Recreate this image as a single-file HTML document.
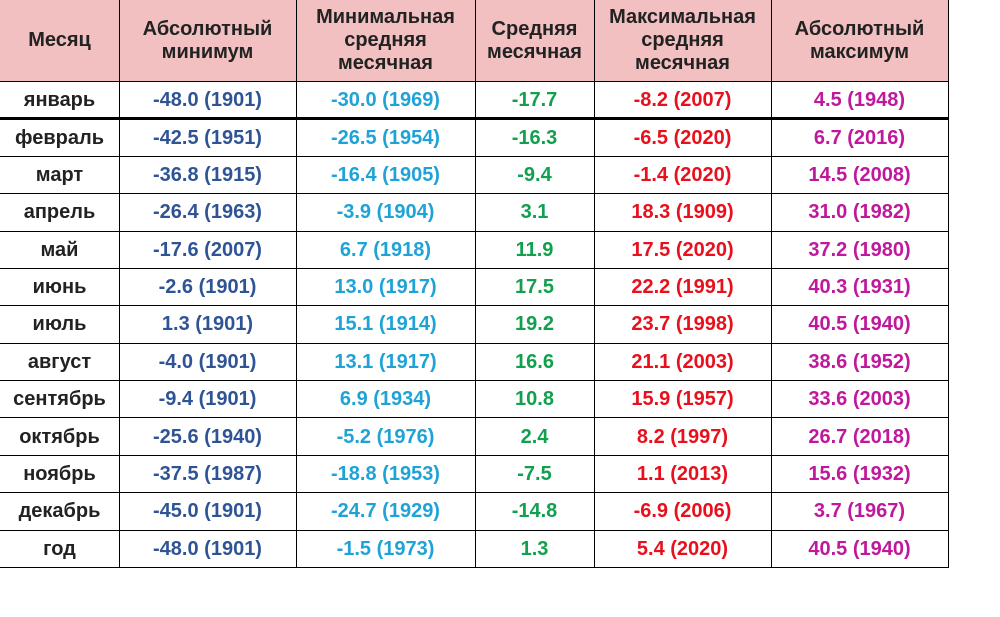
<!DOCTYPE html>
<html><head><meta charset="utf-8"><style>
body{margin:0;width:1000px;height:617px;background:#fff;font-family:"Liberation Sans",Arial,sans-serif;overflow:hidden;position:relative}
.hdr{position:absolute;left:0;top:0;width:948px;height:81px;background:#f2c0c1}
.c{position:absolute;display:flex;align-items:center;justify-content:center;text-align:center;font-weight:bold}
.h{font-size:20px;line-height:23px;color:#222}
.d{font-size:20px}
.vl{position:absolute;top:0;width:1px;height:567px;background:#000}
.hl{position:absolute;left:0;width:949px;height:1px;background:#000}
</style></head><body>
<div class="hdr"></div>
<div id="t"></div>
<script>
const cols=[0,119,296,475,594,771,948];
const headers=["Месяц","Абсолютный<br>минимум","Минимальная<br>средняя<br>месячная","Средняя<br>месячная","Максимальная<br>средняя<br>месячная","Абсолютный<br>максимум"];
const months=["январь","февраль","март","апрель","май","июнь","июль","август","сентябрь","октябрь","ноябрь","декабрь","год"];
const absMin=["-48.0 (1901)","-42.5 (1951)","-36.8 (1915)","-26.4 (1963)","-17.6 (2007)","-2.6 (1901)","1.3 (1901)","-4.0 (1901)","-9.4 (1901)","-25.6 (1940)","-37.5 (1987)","-45.0 (1901)","-48.0 (1901)"];
const minAvg=["-30.0 (1969)","-26.5 (1954)","-16.4 (1905)","-3.9 (1904)","6.7 (1918)","13.0 (1917)","15.1 (1914)","13.1 (1917)","6.9 (1934)","-5.2 (1976)","-18.8 (1953)","-24.7 (1929)","-1.5 (1973)"];
const avg=["-17.7","-16.3","-9.4","3.1","11.9","17.5","19.2","16.6","10.8","2.4","-7.5","-14.8","1.3"];
const maxAvg=["-8.2 (2007)","-6.5 (2020)","-1.4 (2020)","18.3 (1909)","17.5 (2020)","22.2 (1991)","23.7 (1998)","21.1 (2003)","15.9 (1957)","8.2 (1997)","1.1 (2013)","-6.9 (2006)","5.4 (2020)"];
const absMax=["4.5 (1948)","6.7 (2016)","14.5 (2008)","31.0 (1982)","37.2 (1980)","40.3 (1931)","40.5 (1940)","38.6 (1952)","33.6 (2003)","26.7 (2018)","15.6 (1932)","3.7 (1967)","40.5 (1940)"];
const colors=["#222222","#2f5496","#1fa3d6","#12a04e","#e8101c","#c0189c"];
const names=["month","abs-min","min-avg","avg","max-avg","abs-max"];
const t=document.getElementById('t');
const top0=81,rh=(567-81)/13;
headers.forEach((h,i)=>{
 const d=document.createElement('div');
 d.className='c h';
 
 
 d.style.cssText=`left:${cols[i]}px;width:${cols[i+1]-cols[i]}px;top:0;height:81px`;
 d.innerHTML=h;t.appendChild(d);
});
const data=[months,absMin,minAvg,avg,maxAvg,absMax];
for(let r=0;r<13;r++){
 for(let c=0;c<6;c++){
  const d=document.createElement('div');
  d.className='c d';
  
  
  d.style.cssText=`left:${cols[c]}px;width:${cols[c+1]-cols[c]}px;top:${top0+r*rh+1}px;height:${rh}px;color:${colors[c]}`;
  d.textContent=data[c][r];t.appendChild(d);
 }
 const l=document.createElement('div');
 l.className='hl';
 
 
 l.style.top=(top0+r*rh)+'px';
 if(r==1){l.style.height='3px';l.style.top=(top0+rh-1)+'px';}
 t.appendChild(l);
}
const lb=document.createElement('div');lb.className='hl';


lb.style.top='567px';t.appendChild(lb);
for(let i=1;i<cols.length;i++){
 const v=document.createElement('div');v.className='vl';
 
 
 v.style.left=cols[i]+'px';t.appendChild(v);
}
</script>
</body></html>
